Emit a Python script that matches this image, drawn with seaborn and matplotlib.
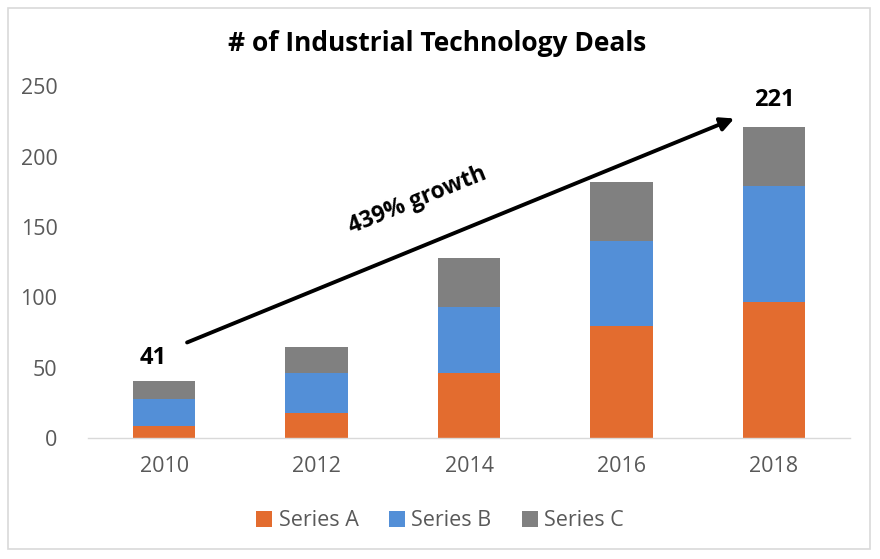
import matplotlib
matplotlib.use("Agg")
import matplotlib.pyplot as plt
import seaborn as sns
import pandas as pd
import numpy as np
from matplotlib.patches import Patch, Rectangle

years = ["2010", "2012", "2014", "2016", "2018"]
series_a = [9, 18, 46, 80, 97]
series_b = [19, 28, 47, 60, 82]
series_c = [13, 19, 35, 42, 42]
series_names = ["Series A", "Series B", "Series C"]
colors = ["#E36C2F", "#538FD7", "#808080"]

sns.set_theme(style="white")
plt.rcParams['font.family'] = ['Open Sans', 'DejaVu Sans']

a = np.array(series_a)
ab = a + np.array(series_b)
abc = ab + np.array(series_c)
df = pd.DataFrame({"year": years, "A": a, "AB": ab, "ABC": abc})

fig = plt.figure(figsize=(8.8, 5.59), dpi=100)
ax = fig.add_axes([0.1, 0.216, 0.866, 0.630])

for col, c in zip(["ABC", "AB", "A"], [colors[2], colors[1], colors[0]]):
    sns.barplot(data=df, x="year", y=col, color=c, width=0.41, ax=ax,
                saturation=1, linewidth=0)

ax.set_xlim(-0.5, 4.5)
ax.set_ylim(0, 250)
ax.set_yticks([0, 50, 100, 150, 200, 250])
ax.set_xlabel("")
ax.set_ylabel("")
for s in ["top", "right", "left"]:
    ax.spines[s].set_visible(False)
ax.spines["bottom"].set_color("#d9d9d9")
ax.spines["bottom"].set_linewidth(1.0)
ax.tick_params(axis="both", length=0, colors="#595959", labelsize=15.5)
ax.tick_params(axis="y", pad=22)
ax.tick_params(axis="x", pad=13)

# annotations
ax.annotate("", xy=(3.74, 227), xytext=(0.15, 68),
            arrowprops=dict(arrowstyle="-|>", color="black", lw=2.8,
                            mutation_scale=20, shrinkA=0, shrinkB=0))
ax.text(-0.07, 57, str(abc[0]), ha="center", va="center", fontsize=17,
        fontweight="bold", color="black")
ax.text(4.0, 240, str(abc[-1]), ha="center", va="center", fontsize=17,
        fontweight="bold", color="black")
ax.text(1.66, 169, "439% growth", ha="center", va="center", fontsize=16.5,
        fontweight="bold", rotation=22, color="black")

fig.text(0.497, 0.922, "# of Industrial Technology Deals", ha="center",
         va="center", fontsize=19, fontweight="bold", color="black")

handles = [Patch(facecolor=c, edgecolor="none") for c in colors]
leg = fig.legend(handles, series_names, loc="center", bbox_to_anchor=(0.5, 0.068),
                 ncol=3, frameon=False, fontsize=15.5, handlelength=0.75,
                 handleheight=0.75, handletextpad=0.3, columnspacing=1.4)
for t in leg.get_texts():
    t.set_color("#595959")

fig.patches.append(Rectangle((8/880, 1-549/559), (870-8)/880, (549-8)/559,
                             transform=fig.transFigure, fill=False,
                             edgecolor="#d9d9d9", linewidth=1.2))

fig.savefig("out.png", dpi=100)
